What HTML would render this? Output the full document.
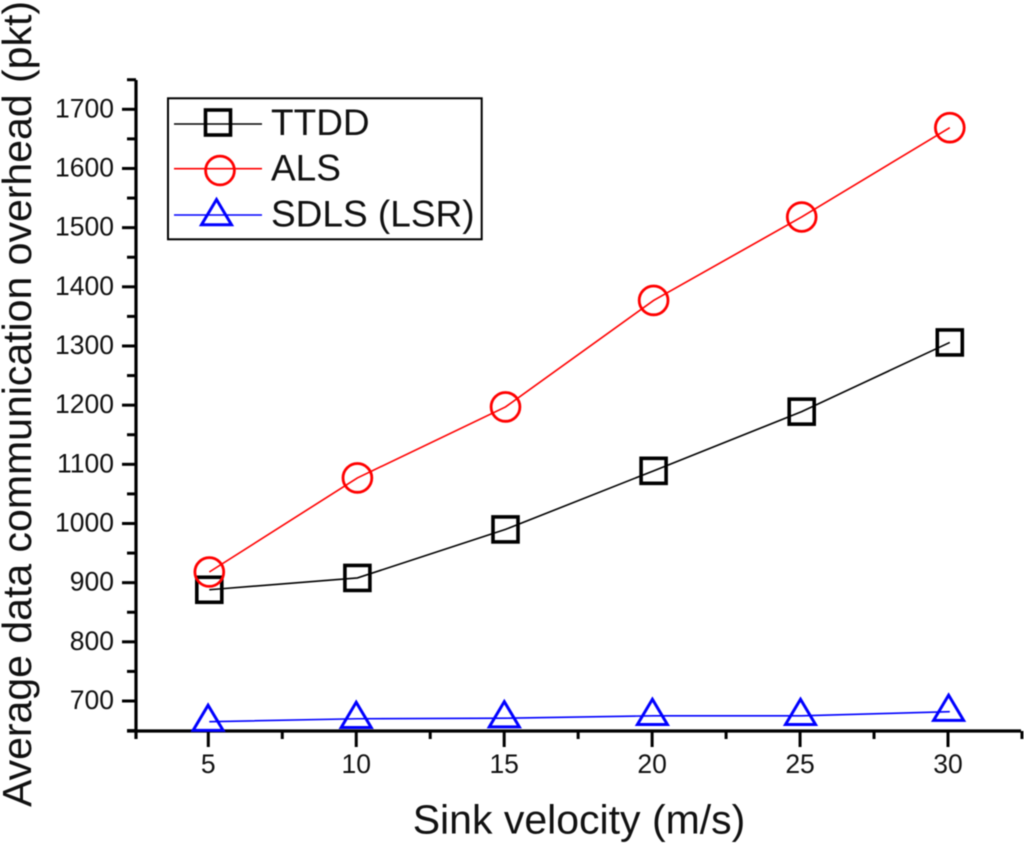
<!DOCTYPE html>
<html>
<head>
<meta charset="utf-8">
<style>
html,body{margin:0;padding:0;background:#fff;}
svg{display:block;filter:blur(0.45px);}
text{font-family:"Liberation Sans",sans-serif;fill:#111;}
</style>
</head>
<body>
<svg id="chart" width="1024" height="843" viewBox="0 0 1024 843" xmlns="http://www.w3.org/2000/svg"></svg>
<script>
const categories = [5, 10, 15, 20, 25, 30];
const ttddValues = [888, 908, 990, 1089, 1189, 1306];
const alsValues = [918, 1077, 1197, 1377, 1518, 1669];
const sdlsValues = [665, 670, 671, 675, 675, 682];
const yTickLabels = [700, 800, 900, 1000, 1100, 1200, 1300, 1400, 1500, 1600, 1700];
const xTickLabels = [5, 10, 15, 20, 25, 30];
const yMinorTicks = [650, 750, 850, 950, 1050, 1150, 1250, 1350, 1450, 1550, 1650, 1750];
const xMinorTicks = [2.5, 7.5, 12.5, 17.5, 22.5, 27.5, 32.5];

const NS = 'http://www.w3.org/2000/svg';
const svg = document.getElementById('chart');
function xs(v){ return 209.3 + (v - 5) * (949.8 - 209.3) / 25; }
function xt(v){ return 208.3 + (v - 5) * (948 - 208.3) / 25; }
function ys(v){ return 701 - (v - 700) * (701 - 109.3) / 1000; }
function mk(tag, attrs, parent){
  const e = document.createElementNS(NS, tag);
  for (const k in attrs) e.setAttribute(k, attrs[k]);
  (parent || svg).appendChild(e);
  return e;
}
function drawMarker(kind, cx, cy, color, parent){
  if (kind === 'square') return mk('rect', {x:cx-12.5,y:cy-12.5,width:25,height:25,fill:'none',stroke:color,'stroke-width':3.6}, parent);
  if (kind === 'circle') return mk('circle', {cx:cx,cy:cy,r:14.4,fill:'none',stroke:color,'stroke-width':2.8}, parent);
  return mk('path', {d:`M${cx} ${cy-16.5}L${cx+15} ${cy+8.7}L${cx-15} ${cy+8.7}Z`,fill:'none',stroke:color,'stroke-width':3}, parent);
}

// axes
const axes = mk('g', {stroke:'#000','stroke-width':3.2,fill:'none'});


mk('line', {x1:127,y1:731,x2:1021,y2:731}, axes);
mk('line', {x1:136,y1:80,x2:136,y2:739}, axes);

yTickLabels.forEach(function(t){
  mk('line', {x1:122,y1:ys(t),x2:136,y2:ys(t),stroke:'#000','stroke-width':3});
  const l = mk('text', {x:114,y:ys(t)+8,'text-anchor':'end','font-size':26.5});
  l.textContent = t;
  
  
});
yMinorTicks.forEach(function(t){
  if (ys(t) < 79 || ys(t) > 732) return;
  mk('line', {x1:127,y1:ys(t),x2:136,y2:ys(t),stroke:'#000','stroke-width':3});
});
xTickLabels.forEach(function(t){
  mk('line', {x1:xt(t),y1:731,x2:xt(t),y2:747,stroke:'#000','stroke-width':3});
  const l = mk('text', {x:xt(t),y:773,'text-anchor':'middle','font-size':26.5});
  l.textContent = t;
  
  
});
xMinorTicks.forEach(function(t){
  if (xt(t) < 136) return;
  mk('line', {x1:xt(t),y1:731,x2:xt(t),y2:739,stroke:'#000','stroke-width':3});
});

// series
const seriesList = [
  {name:'ttdd', values:ttddValues, color:'#000000', kind:'square'},
  {name:'als', values:alsValues, color:'#ff0000', kind:'circle'},
  {name:'sdls', values:sdlsValues, color:'#0000ff', kind:'triangle'}
];
const markerDx = {square:0, circle:0, triangle:-1.2};
seriesList.forEach(function(s){
  const g = mk('g', {});
  
  
  const pts = s.values.map(function(v,i){ return xs(categories[i]) + ',' + ys(v); }).join(' ');
  const ln = mk('polyline', {points:pts,fill:'none',stroke:s.color,'stroke-width':1.6}, g);
  
  
  s.values.forEach(function(v,i){
    const m = drawMarker(s.kind, xs(categories[i]) + markerDx[s.kind], ys(v), s.color, g);
    
    
  });
});

// legend
const legend = mk('g', {});


mk('rect', {x:168,y:98.3,width:313.7,height:141,fill:'none',stroke:'#000','stroke-width':2}, legend);
const legendLabels = ['TTDD', 'ALS', 'SDLS (LSR)'];
const legendLineY = [124, 168.7, 215];
const legendMarkX = [218, 220, 216.5];
const legendMarkY = [122.5, 170.5, 216];
const legendTextY = [135, 180.7, 226.7];
seriesList.forEach(function(s,i){
  const e = mk('g', {}, legend);
  
  
  mk('line', {x1:174,y1:legendLineY[i],x2:262,y2:legendLineY[i],stroke:s.color,'stroke-width':1.6}, e);
  drawMarker(s.kind, legendMarkX[i], legendMarkY[i], s.color, e);
  const t = mk('text', {x:271,y:legendTextY[i],'font-size':37}, e);
  t.textContent = legendLabels[i];
});

// axis titles
const xTitle = mk('text', {x:579,y:833.5,'text-anchor':'middle','font-size':41});
xTitle.textContent = 'Sink velocity (m/s)';


const yTitle = mk('text', {x:0,y:0,'text-anchor':'middle','font-size':41,transform:'translate(31,404) rotate(-90)'});
yTitle.textContent = 'Average data communication overhead (pkt)';


</script>
</body>
</html>
